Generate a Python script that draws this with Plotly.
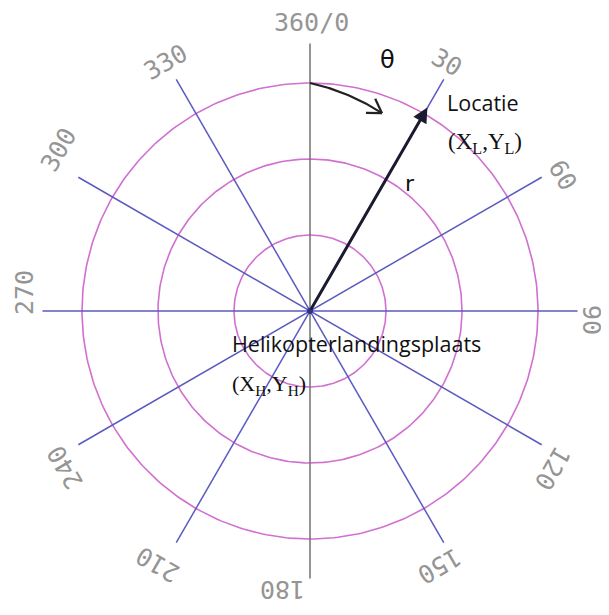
import numpy as np
import plotly.graph_objects as go

# ---- data ----
ring_radii = [1.0, 2.0, 3.0]                 # concentric circles (units)
spoke_angles = [0, 30, 60, 90, 120, 150, 180, 210, 240, 270, 300, 330]
spoke_length = 3.52
angle_labels = ["360/0", "30", "60", "90", "120", "150", "180", "210", "240", "270", "300", "330"]
loc_theta = 30.0     # bearing of location (degrees, clockwise from north)
loc_r = 3.09         # distance to location
theta_arc_start = (0.0, 3.0)    # (angle, r)
theta_arc_end = (20.0, 2.77)

U = 76.0  # px per unit
CX, CY = 310.0, 311.0   # centre in reference-picture pixels
OFF = 8                 # page body margin

def px(x, y):
    return (x - CX) / U, (CY - y) / U

def pol(theta_deg, r):
    t = np.radians(theta_deg)
    return r * np.sin(t), r * np.cos(t)

fig = go.Figure()

# circles
tt = np.linspace(0, 360, 361)
for R in ring_radii:
    x, y = pol(tt, R)
    fig.add_trace(go.Scatter(x=x, y=y, mode="lines",
                             line=dict(color="#d070d0", width=1.6),
                             hoverinfo="skip", showlegend=False))

# spokes
for a in spoke_angles:
    if a >= 180:
        continue
    x0, y0 = pol(a, spoke_length)
    x1, y1 = pol(a + 180, spoke_length)
    col = "#707070" if a == 0 else "#5a5ac0"
    fig.add_trace(go.Scatter(x=[x0, x1], y=[y0, y1], mode="lines",
                             line=dict(color=col, width=1.5),
                             hoverinfo="skip", showlegend=False))

# center dot
fig.add_trace(go.Scatter(x=[0], y=[0], mode="markers",
                         marker=dict(color="#30308a", size=6),
                         hoverinfo="skip", showlegend=False))

# theta arc
ta = np.linspace(theta_arc_start[0], theta_arc_end[0], 40)
tr = np.linspace(theta_arc_start[1], theta_arc_end[1], 40)
ax_, ay_ = pol(ta, tr)
fig.add_trace(go.Scatter(x=ax_, y=ay_, mode="lines",
                         line=dict(color="#222222", width=2.2),
                         hoverinfo="skip", showlegend=False))
# open V arrowhead at arc end
tipx, tipy = ax_[-1], ay_[-1]
dx, dy = ax_[-1] - ax_[-3], ay_[-1] - ay_[-3]
d = np.hypot(dx, dy)
dx, dy = dx / d, dy / d
L = 16 / U
for s in (1, -1):
    ang = np.radians(32 * s)
    rx = dx * np.cos(ang) - dy * np.sin(ang)
    ry = dx * np.sin(ang) + dy * np.cos(ang)
    fig.add_trace(go.Scatter(x=[tipx - L * rx, tipx], y=[tipy - L * ry, tipy], mode="lines",
                             line=dict(color="#222222", width=2.2),
                             hoverinfo="skip", showlegend=False))

# r arrow
lx, ly = pol(loc_theta, loc_r)
fig.add_annotation(x=lx, y=ly, ax=0, ay=0, xref="x", yref="y", axref="x", ayref="y",
                   showarrow=True, arrowhead=2, arrowsize=1.0, arrowwidth=3,
                   arrowcolor="#1a1a30", text="")

# angle labels (centers measured)
label_pos = [(311, 22), (447, 62), (563, 175), (592, 320), (553, 468), (440, 566),
             (283, 590), (158, 565), (65, 468), (24, 293), (58, 150), (165, 62)]
for lab, a, (px_, py_) in zip(angle_labels, spoke_angles, label_pos):
    x, y = px(px_, py_)
    ang = a if a <= 180 else a - 360
    if lab == "360/0":
        ang = 0
    fig.add_annotation(x=x, y=y, xref="x", yref="y", text=lab, showarrow=False,
                       textangle=ang, font=dict(family="DejaVu Sans Mono", size=25, color="#959595"),
                       xanchor="center", yanchor="middle")

def txt(t, x, y, family, size, color="#111111", anchor="left"):
    X, Y = px(x, y)
    fig.add_annotation(x=X, y=Y, xref="x", yref="y", text=t, showarrow=False,
                       font=dict(family=family, size=size, color=color),
                       xanchor=anchor, yanchor="middle")

txt("θ", 387, 60, "DejaVu Sans", 24, anchor="center")
txt("r", 410, 183, "DejaVu Sans", 22, anchor="center")
txt("Locatie", 445, 102, "Open Sans", 21.5)
txt("(X<sub>L</sub>,Y<sub>L</sub>)", 446, 143, "Liberation Serif", 23)
txt("Helikopterlandingsplaats", 230, 343, "Open Sans", 21.5)
txt("(X<sub>H</sub>,Y<sub>H</sub>)", 230, 385, "Liberation Serif", 22)

W, H = 609 - OFF, 615 - 2 * OFF
fig.update_layout(
    width=W, height=H, margin=dict(l=0, r=0, t=0, b=0),
    paper_bgcolor="white", plot_bgcolor="white",
    xaxis=dict(range=[(OFF - CX) / U, (OFF + W - CX) / U], visible=False, fixedrange=True),
    yaxis=dict(range=[(CY - OFF - H) / U, (CY - OFF) / U], visible=False, fixedrange=True),
    showlegend=False,
)
fig.write_html("out.html")
